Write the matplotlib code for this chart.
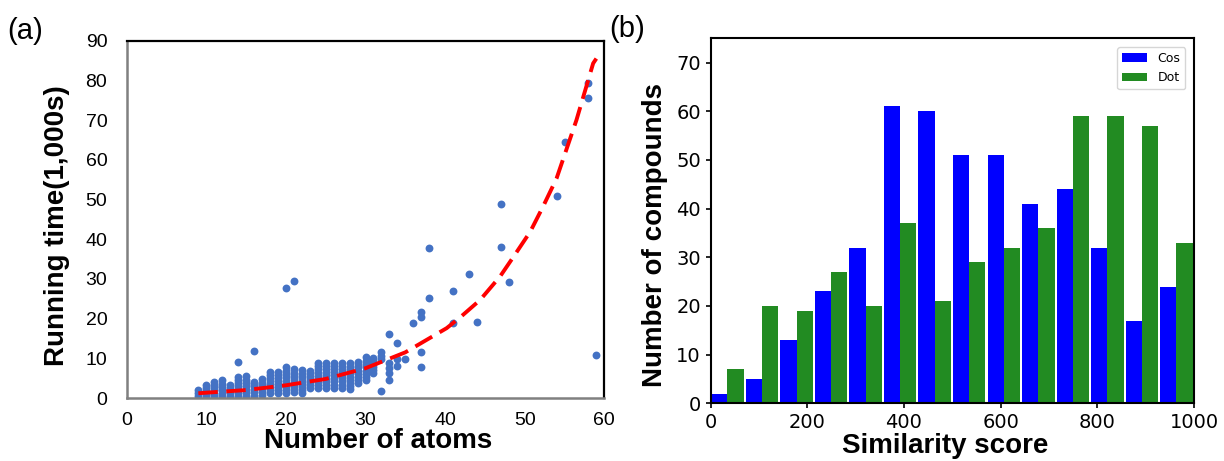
import numpy as np
import matplotlib.pyplot as plt

# (a) running time vs number of atoms, one entry per compound
atoms = [9, 9, 9,
         10, 10, 10, 10, 10,
         11, 11, 11, 11, 11, 11,
         12, 12, 12, 12, 12, 12,
         13, 13, 13, 13, 13,
         14, 14, 14, 14, 14, 14, 14, 14,
         15, 15, 15, 15, 15, 15, 15,
         16, 16, 16, 16, 16, 16, 16,
         17, 17, 17, 17, 17, 17,
         18, 18, 18, 18, 18, 18, 18, 18,
         19, 19, 19, 19, 19, 19, 19, 19,
         20, 20, 20, 20, 20, 20, 20, 20, 20, 20,
         21, 21, 21, 21, 21, 21, 21, 21, 21,
         22, 22, 22, 22, 22, 22, 22, 22,
         23, 23, 23, 23, 23, 23, 23,
         24, 24, 24, 24, 24, 24, 24, 24, 24,
         25, 25, 25, 25, 25, 25, 25, 25, 25,
         26, 26, 26, 26, 26, 26, 26, 26, 26,
         27, 27, 27, 27, 27, 27, 27, 27, 27,
         28, 28, 28, 28, 28, 28, 28, 28, 28,
         29, 29, 29, 29, 29, 29, 29, 29,
         30, 30, 30, 30, 30, 30, 30, 30,
         31, 31, 31, 31, 31, 31,
         32, 32, 32, 32,
         33, 33, 33, 33, 33,
         34, 34, 34,
         35, 36,
         37, 37, 37, 37,
         38, 38,
         41, 41, 43, 44,
         47, 47, 48,
         54, 55, 58, 58, 59]
run_time = [0.5, 1.2, 2.0,
            0.4, 1.1, 1.8, 2.6, 3.4,
            0.4, 1.1, 1.9, 2.7, 3.4, 4.1,
            0.5, 1.2, 2.0, 2.8, 3.6, 4.6,
            0.5, 1.2, 1.9, 2.6, 3.2,
            0.6, 1.3, 2.1, 2.9, 3.7, 4.5, 5.3, 9.0,
            0.5, 1.3, 2.1, 2.9, 3.7, 4.6, 5.5,
            0.6, 1.4, 2.2, 3.0, 3.6, 4.1, 11.8,
            0.8, 1.6, 2.4, 3.2, 3.9, 4.7,
            1.2, 2.0, 2.8, 3.6, 4.4, 5.1, 5.9, 6.6,
            1.2, 2.0, 2.8, 3.6, 4.4, 5.1, 5.9, 6.6,
            1.2, 2.0, 2.8, 3.6, 4.4, 5.2, 6.0, 6.9, 7.7, 27.6,
            1.5, 2.3, 3.1, 3.9, 4.7, 5.5, 6.4, 7.2, 29.5,
            1.2, 2.0, 2.8, 3.6, 4.4, 5.2, 6.1, 7.0,
            2.5, 3.2, 4.0, 4.8, 5.6, 6.2, 6.8,
            2.4, 3.2, 4.0, 4.8, 5.6, 6.4, 7.2, 8.0, 8.7,
            2.5, 3.3, 4.1, 4.9, 5.7, 6.5, 7.3, 8.1, 8.9,
            2.6, 3.4, 4.2, 5.0, 5.8, 6.6, 7.4, 8.1, 8.7,
            2.6, 3.4, 4.2, 5.0, 5.8, 6.6, 7.4, 8.1, 8.7,
            2.2, 3.0, 3.8, 4.6, 5.4, 6.2, 7.0, 7.8, 8.9,
            3.7, 4.5, 5.3, 6.1, 6.9, 7.7, 8.4, 9.1,
            4.5, 5.3, 6.1, 6.9, 7.7, 8.5, 9.4, 10.4,
            6.2, 7.0, 7.8, 8.6, 9.4, 10.2,
            1.8, 9.8, 10.6, 11.7,
            4.5, 6.2, 7.5, 8.8, 16.0,
            8.1, 9.8, 13.8,
            9.7, 19.0,
            7.9, 11.7, 20.3, 21.7,
            25.1, 37.7,
            18.8, 27.0, 31.2, 19.2,
            38.0, 48.9, 29.3,
            51.0, 64.4, 75.5, 79.3, 10.8]

# trend line
trend_x = [9, 15, 20, 25, 30, 35, 40.2, 42, 44.4, 46.9, 48.6, 50.7, 52.3, 54, 56.5, 58.6, 59]
trend_y = [1.2, 2.0, 3.2, 4.8, 7.5, 11.5, 17.6, 20.5, 24.7, 30.6, 35.6, 41.9, 48.2, 55.3, 70.0, 84.3, 85.5]

# (b) histogram counts, 14 bins over 0..1000
bin_edges = np.linspace(0, 1000, 15)
cos_counts = [2, 5, 13, 23, 32, 61, 60, 51, 51, 41, 44, 32, 17, 24]
dot_counts = [7, 20, 19, 27, 20, 37, 21, 29, 32, 36, 59, 59, 57, 33]

W, H = 1224, 461
fig = plt.figure(figsize=(W / 100, H / 100), dpi=100)
arial = 'Liberation Sans'

# ---- panel (a)
ax1 = fig.add_axes([126.7 / W, 1 - 398 / H, (604.3 - 126.7) / W, (398 - 40.7) / H])
ax1.scatter(atoms, run_time, s=32, color='#4472C4', zorder=2, linewidths=0)
ax1.plot(trend_x, trend_y, color='red', lw=2.8, dashes=(5.0, 2.2), zorder=3)
ax1.set_xlim(0, 60)
ax1.set_ylim(0, 90)
ax1.set_xticks(np.arange(0, 61, 10))
ax1.set_yticks(np.arange(0, 91, 10))
ax1.tick_params(length=0, labelsize=14)
ax1.tick_params(axis='y', pad=14)
ax1.tick_params(axis='x', pad=10)
for lab in ax1.get_xticklabels() + ax1.get_yticklabels():
    lab.set_family(arial)
for side in ['top', 'right']:
    ax1.spines[side].set_color('black')
    ax1.spines[side].set_linewidth(1.6)
for side in ['left', 'bottom']:
    ax1.spines[side].set_color('#808080')
    ax1.spines[side].set_linewidth(1.8)
ax1.set_xlabel('Number of atoms', family=arial, fontweight='bold', fontsize=20)
ax1.set_ylabel('Running time(1,000s)', family=arial, fontweight='bold', fontsize=20)
ax1.xaxis.set_label_coords(0.526, -0.085)
ax1.yaxis.set_label_coords(-0.119, 0.483)

# ---- panel (b)
ax2 = fig.add_axes([710.5 / W, 1 - 403.3 / H, (1194 - 710.5) / W, (403.3 - 38.3) / H])
bw = bin_edges[1] - bin_edges[0]
left = bin_edges[:-1]
ax2.bar(left + 1.5, cos_counts, width=0.47 * bw, align='edge', color='blue', label='Cos')
ax2.bar(left + 1.5 + 0.47 * bw, dot_counts, width=0.47 * bw, align='edge',
        color='forestgreen', label='Dot')
ax2.set_xlim(0, 1000)
ax2.set_ylim(0, 75)
ax2.set_xticks(np.arange(0, 1001, 200))
ax2.set_yticks(np.arange(0, 71, 10))
ax2.tick_params(labelsize=14, width=1.2)
for side in ax2.spines:
    ax2.spines[side].set_linewidth(1.5)
ax2.set_xlabel('Similarity score', family=arial, fontweight='bold', fontsize=20)
ax2.set_ylabel('Number of compounds', family=arial, fontweight='bold', fontsize=20)
ax2.xaxis.set_label_coords(0.485, -0.08)
ax2.yaxis.set_label_coords(-0.088, 0.46)
ax2.legend(loc='upper right', fontsize=9, borderaxespad=0.7)

fig.text(7 / W, 1 - 31 / H, '(a)', family=arial, fontsize=21, va='center', ha='left')
fig.text(609 / W, 1 - 29 / H, '(b)', family=arial, fontsize=21, va='center', ha='left')

fig.savefig('out.png', dpi=100)
